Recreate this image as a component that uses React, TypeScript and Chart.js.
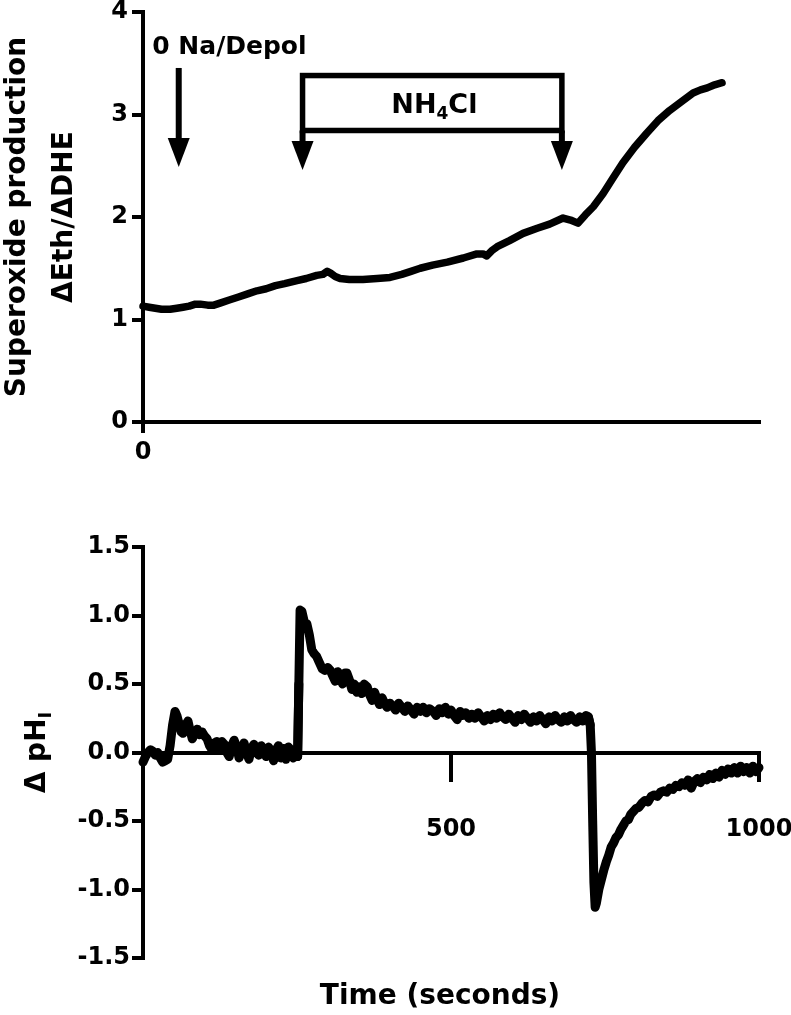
import React, { useEffect, useRef } from "react";
import { Chart, registerables } from "chart.js";

Chart.register(...registerables);

const FONT = "'DejaVu Sans', 'Liberation Sans', sans-serif";

// ---------- DATA ----------
// Top panel: superoxide production (ΔEth/ΔDHE) vs time (s)
const superoxideTrace: [number, number][] = [
  [0, 1.13], [10, 1.12], [20, 1.11], [30, 1.1], [44, 1.1], [55, 1.11], [65, 1.12],
  [75, 1.13], [85, 1.15], [93, 1.15], [105, 1.14], [115, 1.14], [125, 1.16],
  [140, 1.19], [155, 1.22], [170, 1.25], [185, 1.28], [200, 1.3], [215, 1.33],
  [230, 1.35], [250, 1.38], [265, 1.4], [282, 1.43], [292, 1.44], [299, 1.47],
  [305, 1.45], [312, 1.42], [320, 1.4], [335, 1.39], [357, 1.39], [380, 1.4],
  [401, 1.41], [420, 1.44], [435, 1.47], [450, 1.5], [470, 1.53], [494, 1.56],
  [520, 1.6], [542, 1.64], [552, 1.64], [558, 1.62], [566, 1.67], [575, 1.71],
  [595, 1.77], [617, 1.84], [640, 1.89], [660, 1.93], [682, 1.99], [694, 1.97],
  [706, 1.94], [718, 2.02], [731, 2.1], [747, 2.23], [763, 2.38], [779, 2.53],
  [798, 2.68], [818, 2.82], [836, 2.94], [855, 3.04], [875, 3.13], [893, 3.21],
  [905, 3.24], [916, 3.26], [928, 3.29], [940, 3.31],
];

// Bottom panel: Δ pHi vs time (s), split by experimental phase
const phBaseline: [number, number][] = [
  [0, -0.07], [4, -0.03], [8, 0.0], [12, 0.02], [16, 0.01], [20, -0.02], [24, 0.0],
  [28, -0.04], [32, -0.07], [36, -0.06], [40, -0.05], [44, 0.05], [48, 0.2],
  [52, 0.3], [55, 0.27], [58, 0.22], [62, 0.15], [65, 0.14], [69, 0.2], [73, 0.23],
  [76, 0.17], [80, 0.1], [84, 0.14], [88, 0.17], [92, 0.13], [96, 0.15], [100, 0.12],
  [104, 0.1], [108, 0.05], [112, 0.02], [116, 0.07], [120, 0.08], [124, 0.03],
  [128, 0.08], [132, 0.06], [136, 0.0], [140, -0.03], [144, 0.05], [148, 0.09],
  [152, 0.04], [156, -0.04], [160, 0.02], [164, 0.07], [168, 0.0], [172, -0.05],
  [176, 0.03], [180, 0.06], [184, 0.0], [188, -0.02], [192, 0.05], [196, 0.01],
  [200, -0.03], [204, 0.04], [208, 0.0], [212, -0.06], [216, 0.02], [220, 0.05],
  [224, -0.04], [228, 0.03], [232, -0.05], [236, 0.04], [240, 0.02], [244, -0.04],
  [248, 0.0], [251, -0.03],
];
const phNH4Cl: [number, number][] = [
  [253, 0.5], [255, 1.04], [258, 1.03], [262, 0.95], [266, 0.94], [270, 0.86],
  [274, 0.75], [278, 0.72], [282, 0.7], [286, 0.66], [291, 0.61], [295, 0.6],
  [300, 0.62], [304, 0.6], [308, 0.56], [312, 0.52], [316, 0.59], [320, 0.56],
  [324, 0.5], [328, 0.58], [331, 0.58], [335, 0.53], [339, 0.46], [343, 0.5],
  [347, 0.44], [351, 0.48], [355, 0.43], [359, 0.5], [364, 0.48], [368, 0.42],
  [372, 0.38], [376, 0.44], [380, 0.39], [384, 0.35], [388, 0.4], [392, 0.36],
  [396, 0.33], [401, 0.36], [405, 0.34], [410, 0.31], [415, 0.36], [420, 0.33],
  [425, 0.3], [430, 0.34], [435, 0.31], [440, 0.28], [445, 0.33], [450, 0.3],
  [455, 0.33], [460, 0.29], [465, 0.32], [471, 0.3], [476, 0.27], [481, 0.32],
  [486, 0.29], [491, 0.33], [496, 0.28], [500, 0.31], [505, 0.27], [510, 0.24],
  [515, 0.3], [519, 0.27], [524, 0.29], [529, 0.25], [534, 0.28], [539, 0.25],
  [544, 0.29], [549, 0.26], [554, 0.23], [559, 0.27], [564, 0.24], [569, 0.28],
  [574, 0.25], [579, 0.29], [584, 0.26], [589, 0.24], [594, 0.28], [599, 0.25],
  [604, 0.22], [609, 0.27], [614, 0.24], [619, 0.28], [624, 0.25], [629, 0.22],
  [634, 0.26], [639, 0.23], [644, 0.27], [649, 0.24], [654, 0.21], [659, 0.26],
  [664, 0.23], [669, 0.27], [674, 0.24], [679, 0.22], [684, 0.26], [689, 0.23],
  [694, 0.27], [699, 0.24], [704, 0.22], [709, 0.26], [714, 0.23], [719, 0.27],
  [723, 0.26],
];
const phWashout: [number, number][] = [
  [726, 0.2], [728, 0.0], [730, -0.5], [732, -0.95], [734, -1.13], [736, -1.1],
  [740, -1.0], [744, -0.93], [748, -0.86], [752, -0.8], [756, -0.75], [760, -0.69],
  [764, -0.66], [768, -0.62], [772, -0.6], [776, -0.56], [780, -0.53], [784, -0.5],
  [788, -0.49], [792, -0.45], [796, -0.43], [800, -0.41], [805, -0.4], [810, -0.37],
  [815, -0.35], [820, -0.36], [825, -0.32], [830, -0.31], [835, -0.32], [840, -0.29],
  [845, -0.28], [850, -0.29], [855, -0.26], [860, -0.27], [865, -0.24], [870, -0.25],
  [875, -0.22], [880, -0.24], [885, -0.2], [890, -0.26], [895, -0.21], [900, -0.19],
  [905, -0.22], [910, -0.18], [915, -0.2], [920, -0.16], [925, -0.19], [930, -0.15],
  [935, -0.18], [940, -0.13], [945, -0.16], [950, -0.12], [955, -0.15], [960, -0.11],
  [965, -0.15], [970, -0.1], [975, -0.14], [980, -0.11], [985, -0.15], [990, -0.1],
  [995, -0.14], [1000, -0.11],
];

// Tick values / labels
const topXTicks = [0];
const topYTicks = [0, 1, 2, 3, 4];
const bottomXTicks = [500, 1000];
const bottomYTicks = [-1.5, -1.0, -0.5, 0.0, 0.5, 1.0, 1.5];

// Event annotations (data coordinates)
const depolTime = 58;
const nh4OnTime = 259;
const nh4OffTime = 680;

// ---------- HELPERS ----------
const toPoints = (arr: [number, number][]) => arr.map(([x, y]) => ({ x, y }));

const tickFont = { family: FONT, size: 24, weight: "bold" as const };

function fixedTicks(values: number[]) {
  return (scale: any) => {
    scale.ticks = values.map((v) => ({ value: v }));
  };
}

function zeroPad(scale: any) {
  scale.paddingLeft = 0;
  scale.paddingRight = 0;
  scale.paddingTop = 0;
  scale.paddingBottom = 0;
}

function drawDownArrow(ctx: CanvasRenderingContext2D, x: number, yTop: number, yTip: number) {
  const headLen = 29;
  const headHalf = 11;
  ctx.beginPath();
  ctx.lineWidth = 6;
  ctx.moveTo(x, yTop);
  ctx.lineTo(x, yTip - headLen + 2);
  ctx.stroke();
  ctx.beginPath();
  ctx.moveTo(x - headHalf, yTip - headLen);
  ctx.lineTo(x + headHalf, yTip - headLen);
  ctx.lineTo(x, yTip);
  ctx.closePath();
  ctx.fill();
}

const topDecor = {
  id: "topDecor",
  afterDraw(chart: any) {
    const { ctx, chartArea } = chart;
    const xs = chart.scales.x;
    const ys = chart.scales.y;
    ctx.save();
    ctx.fillStyle = "#000";
    ctx.strokeStyle = "#000";
    ctx.lineCap = "butt";

    // y-axis title (two lines)
    const cy = (chartArea.top + chartArea.bottom) / 2;
    ctx.save();
    ctx.translate(0, cy);
    ctx.rotate(-Math.PI / 2);
    ctx.textAlign = "center";
    ctx.textBaseline = "alphabetic";
    ctx.font = `bold 28px ${FONT}`;
    ctx.fillText("Superoxide production", 0, 25);
    ctx.fillText("ΔEth/ΔDHE", 0, 72);
    ctx.restore();

    // 0 Na/Depol
    ctx.font = `bold 25px ${FONT}`;
    ctx.textAlign = "left";
    ctx.textBaseline = "alphabetic";
    ctx.fillText("0 Na/Depol", xs.getPixelForValue(15), ys.getPixelForValue(3.59));
    drawDownArrow(ctx, xs.getPixelForValue(depolTime), ys.getPixelForValue(3.454), ys.getPixelForValue(2.488));

    // NH4Cl box
    const bx1 = xs.getPixelForValue(nh4OnTime);
    const bx2 = xs.getPixelForValue(nh4OffTime);
    const by1 = ys.getPixelForValue(3.38);
    const by2 = ys.getPixelForValue(2.844);
    ctx.lineWidth = 5.5;
    ctx.strokeRect(bx1, by1, bx2 - bx1, by2 - by1);
    drawDownArrow(ctx, bx1, by2, ys.getPixelForValue(2.459));
    drawDownArrow(ctx, bx2, by2, ys.getPixelForValue(2.459));

    // NH4Cl label with subscript
    const mainF = `bold 27px ${FONT}`;
    const subF = `bold 17px ${FONT}`;
    ctx.font = mainF;
    const wNH = ctx.measureText("NH").width;
    const wCl = ctx.measureText("Cl").width;
    ctx.font = subF;
    const w4 = ctx.measureText("4").width;
    const total = wNH + w4 + wCl;
    const cx = xs.getPixelForValue(473);
    const base = ys.getPixelForValue(3.01);
    let lx = cx - total / 2;
    ctx.font = mainF;
    ctx.fillText("NH", lx, base);
    lx += wNH;
    ctx.font = subF;
    ctx.fillText("4", lx, base + 6);
    lx += w4;
    ctx.font = mainF;
    ctx.fillText("Cl", lx, base);
    ctx.restore();
  },
};

const bottomDecor = {
  id: "bottomDecor",
  afterDraw(chart: any) {
    const { ctx, chartArea } = chart;
    ctx.save();
    ctx.fillStyle = "#000";
    // y-axis title Δ pH_I
    const cy = (chartArea.top + chartArea.bottom) / 2;
    const mainF = `bold 28px ${FONT}`;
    const subF = `bold 18px ${FONT}`;
    ctx.font = mainF;
    const wMain = ctx.measureText("Δ pH").width;
    ctx.font = subF;
    const wSub = ctx.measureText("I").width;
    const total = wMain + wSub;
    ctx.save();
    ctx.translate(0, cy);
    ctx.rotate(-Math.PI / 2);
    ctx.textAlign = "left";
    ctx.textBaseline = "alphabetic";
    ctx.font = mainF;
    ctx.fillText("Δ pH", -total / 2, 45);
    ctx.font = subF;
    ctx.fillText("I", -total / 2 + wMain, 51);
    ctx.restore();

    // x-axis title
    ctx.font = `bold 28px ${FONT}`;
    ctx.textAlign = "center";
    ctx.textBaseline = "middle";
    ctx.fillText("Time (seconds)", 440, chart.height - 18);
    ctx.restore();
  },
};

function axisStyle(tickLength: number) {
  return {
    grid: {
      display: true,
      drawOnChartArea: false,
      drawTicks: true,
      tickLength,
      tickWidth: 4,
      tickColor: "#000",
      color: "#000",
      lineWidth: 4,
    },
    border: { display: true, color: "#000", width: 4 },
  };
}

export default function App() {
  const topRef = useRef<HTMLCanvasElement>(null);
  const botRef = useRef<HTMLCanvasElement>(null);

  useEffect(() => {
    const top = new Chart(topRef.current as HTMLCanvasElement, {
      type: "line",
      data: {
        datasets: [
          {
            data: toPoints(superoxideTrace),
            borderColor: "#000",
            borderWidth: 7.5,
            pointRadius: 0,
            tension: 0,
            borderCapStyle: "round",
            borderJoinStyle: "round",
            clip: false,
          } as any,
        ],
      },
      options: {
        animation: false,
        responsive: false,
        maintainAspectRatio: false,
        layout: { padding: { top: 12, right: 32, bottom: 0, left: 0 } },
        plugins: { legend: { display: false }, tooltip: { enabled: false } },
        scales: {
          x: {
            type: "linear",
            min: 0,
            max: 1000,
            afterBuildTicks: fixedTicks(topXTicks),
            afterFit: (s: any) => {
              zeroPad(s);
              s.height = 58;
            },
            ...axisStyle(11),
            ticks: {
              color: "#000",
              font: tickFont,
              padding: 5,
              maxRotation: 0,
              autoSkip: false,
              callback: (v: any) => String(v),
            },
          },
          y: {
            type: "linear",
            min: 0,
            max: 4,
            afterBuildTicks: fixedTicks(topYTicks),
            afterFit: (s: any) => {
              zeroPad(s);
              s.width = 143;
            },
            ...axisStyle(11),
            ticks: {
              color: "#000",
              font: tickFont,
              padding: 4,
              autoSkip: false,
              callback: (v: any) => String(v),
            },
          },
        } as any,
      },
      plugins: [topDecor],
    } as any);

    const phDataset = (arr: [number, number][]) => ({
      data: toPoints(arr),
      borderColor: "#000",
      borderWidth: 9,
      pointRadius: 0,
      tension: 0,
      borderCapStyle: "round",
      borderJoinStyle: "round",
      clip: false,
    });

    const bottom = new Chart(botRef.current as HTMLCanvasElement, {
      type: "line",
      data: {
        datasets: [
          phDataset([...phBaseline, ...phNH4Cl.slice(0, 1)]),
          phDataset([...phBaseline.slice(-1), ...phNH4Cl, ...phWashout.slice(0, 1)]),
          phDataset([...phNH4Cl.slice(-1), ...phWashout]),
        ] as any,
      },
      options: {
        animation: false,
        responsive: false,
        maintainAspectRatio: false,
        layout: { padding: { top: 67, right: 32, bottom: 57, left: 0 } },
        plugins: { legend: { display: false }, tooltip: { enabled: false } },
        scales: {
          x: {
            type: "linear",
            position: { y: 0 },
            min: 0,
            max: 1000,
            afterBuildTicks: fixedTicks(bottomXTicks),
            afterFit: (s: any) => {
              zeroPad(s);
            },
            ...axisStyle(27),
            ticks: {
              color: "#000",
              font: tickFont,
              padding: 36,
              maxRotation: 0,
              autoSkip: false,
              callback: (v: any) => String(v),
            },
          },
          y: {
            type: "linear",
            min: -1.5,
            max: 1.5,
            afterBuildTicks: fixedTicks(bottomYTicks),
            afterFit: (s: any) => {
              zeroPad(s);
              s.width = 143;
            },
            ...axisStyle(11),
            ticks: {
              color: "#000",
              font: tickFont,
              padding: 2,
              autoSkip: false,
              callback: (v: any) => Number(v).toFixed(1),
            },
          },
        } as any,
      },
      plugins: [bottomDecor],
    } as any);

    return () => {
      top.destroy();
      bottom.destroy();
    };
  }, []);

  return (
    <div
      style={{
        position: "absolute",
        left: 0,
        top: 0,
        width: 791,
        height: 1015,
        background: "#fff",
        overflow: "hidden",
      }}
    >
      <canvas
        ref={topRef}
        width={791}
        height={480}
        style={{ position: "absolute", left: 0, top: 0, width: 791, height: 480 }}
      />
      <canvas
        ref={botRef}
        width={791}
        height={535}
        style={{ position: "absolute", left: 0, top: 480, width: 791, height: 535 }}
      />
    </div>
  );
}
